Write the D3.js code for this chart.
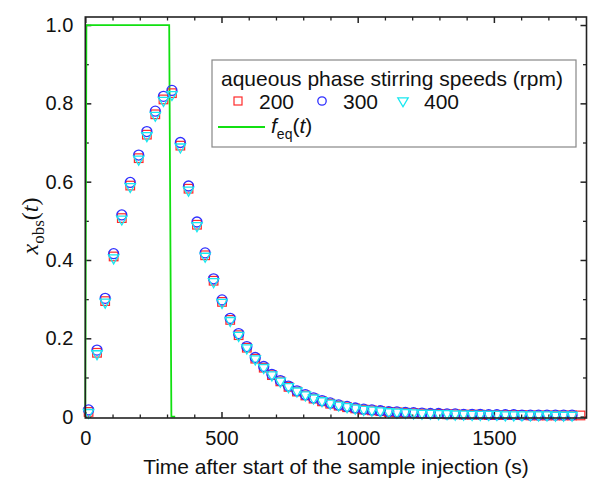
<!DOCTYPE html>
<html>
<head>
<meta charset="utf-8">
<script src="https://d3js.org/d3.v7.min.js"></script>
<style>
  body { margin: 0; background: #fff; }
  svg { font-family: "Liberation Sans", Arial, sans-serif; }
  .tick text { font-size: 20px; fill: #111; }
  .frame { fill: none; stroke: #222; stroke-width: 1.6px; }
  .legend-box { fill: #fff; stroke: #888; stroke-width: 1.2px; }
</style>
</head>
<body>
<script>
// sampling times (s)
var times = [12, 43, 73, 104, 134, 165, 196, 226, 257, 287,
  318, 349, 379, 410, 440, 471, 502, 532, 563, 593,
  624, 655, 685, 716, 746, 777, 808, 838, 869, 899,
  930, 961, 991, 1022, 1052, 1083, 1114, 1144, 1175, 1205,
  1236, 1267, 1297, 1328, 1358, 1389, 1420, 1450, 1481, 1511,
  1542, 1573, 1603, 1634, 1664, 1695, 1726, 1756, 1787, 1818];

var rpm200 = [0.012, 0.163, 0.295, 0.409, 0.507, 0.590, 0.660, 0.720, 0.772, 0.810,
  0.826, 0.692, 0.582, 0.490, 0.412, 0.347, 0.293, 0.247, 0.208, 0.176,
  0.148, 0.125, 0.106, 0.090, 0.076, 0.064, 0.054, 0.046, 0.039, 0.033,
  0.028, 0.024, 0.021, 0.018, 0.016, 0.014, 0.012, 0.011, 0.010, 0.009,
  0.008, 0.007, 0.007, 0.006, 0.006, 0.005, 0.005, 0.005, 0.004, 0.004,
  0.004, 0.004, 0.004, 0.003, 0.003, 0.003, 0.003, 0.003, 0.003, 0.003];

var rpm300 = [0.017, 0.170, 0.302, 0.416, 0.515, 0.598, 0.668, 0.728, 0.780, 0.818,
  0.833, 0.700, 0.589, 0.497, 0.418, 0.352, 0.298, 0.251, 0.212, 0.179,
  0.151, 0.128, 0.108, 0.092, 0.078, 0.066, 0.056, 0.048, 0.041, 0.035,
  0.030, 0.026, 0.022, 0.019, 0.017, 0.015, 0.013, 0.012, 0.011, 0.010,
  0.009, 0.008, 0.008, 0.007, 0.007, 0.006, 0.006, 0.006, 0.005, 0.005,
  0.005, 0.005, 0.004, 0.004, 0.004, 0.004, 0.004, 0.004, 0.004];

var rpm400 = [0.010, 0.160, 0.292, 0.405, 0.504, 0.587, 0.657, 0.717, 0.769, 0.807,
  0.822, 0.688, 0.578, 0.487, 0.409, 0.344, 0.291, 0.245, 0.207, 0.175,
  0.147, 0.125, 0.106, 0.090, 0.076, 0.065, 0.055, 0.047, 0.040, 0.034,
  0.029, 0.025, 0.021, 0.018, 0.016, 0.014, 0.012, 0.011, 0.010, 0.009,
  0.008, 0.008, 0.007, 0.007, 0.006, 0.006, 0.005, 0.005, 0.005, 0.005,
  0.004, 0.004, 0.004, 0.004, 0.004, 0.004, 0.003, 0.003, 0.003];

// f_eq(t) step profile
var feqT = [0, 4, 308, 316, 330];
var feqV = [0, 1, 1, 0, 0];

var xTicks = [0, 500, 1000, 1500];
var xMinor = [100, 200, 300, 400, 600, 700, 800, 900, 1100, 1200, 1300, 1400, 1600, 1700, 1800];
var yTicks = [0, 0.2, 0.4, 0.6, 0.8, 1.0];
var yMinor = [0.1, 0.3, 0.5, 0.7, 0.9];

var W = 593, H = 482;
var pL = 85.3, pR = 586.5, pT = 17, pB = 418;

var svg = d3.select("body").append("svg")
    .attr("width", W)
    .attr("height", H);

var x = d3.scaleLinear().domain([0, 1840]).range([pL, pR]);
var y = d3.scaleLinear().domain([-0.0035, 1.0205]).range([pB, pT]);

function yFmt(d) { return d === 0 ? "0" : d.toFixed(1); }
function styleTicks(w) {
  return function(g) {
    g.select(".domain").remove();
    g.selectAll("line").attr("stroke", "#222").attr("stroke-width", w);
  };
}

// axes, ticks inward on all four sides
svg.append("g")
    .attr("transform", "translate(0," + pB + ")")
    .call(d3.axisBottom(x).tickValues(xTicks).tickFormat(d3.format("d")).tickSizeInner(-6).tickSizeOuter(0).tickPadding(13))
    .call(styleTicks(1.5));

svg.append("g")
    .attr("transform", "translate(0," + pB + ")")
    .call(d3.axisBottom(x).tickValues(xMinor).tickSizeInner(-3.5).tickSizeOuter(0).tickFormat(""))
    .call(styleTicks(1.3));

svg.append("g")
    .attr("transform", "translate(0," + pT + ")")
    .call(d3.axisTop(x).tickValues(xTicks).tickSizeInner(-6).tickSizeOuter(0).tickFormat(""))
    .call(styleTicks(1.5));

svg.append("g")
    .attr("transform", "translate(0," + pT + ")")
    .call(d3.axisTop(x).tickValues(xMinor).tickSizeInner(-3.5).tickSizeOuter(0).tickFormat(""))
    .call(styleTicks(1.3));

svg.append("g")
    .attr("transform", "translate(" + pL + ",0)")
    .call(d3.axisLeft(y).tickValues(yTicks).tickFormat(yFmt).tickSizeInner(-6).tickSizeOuter(0).tickPadding(12))
    .call(styleTicks(1.5));

svg.append("g")
    .attr("transform", "translate(" + pL + ",0)")
    .call(d3.axisLeft(y).tickValues(yMinor).tickSizeInner(-3.5).tickSizeOuter(0).tickFormat(""))
    .call(styleTicks(1.3));

svg.append("g")
    .attr("transform", "translate(" + pR + ",0)")
    .call(d3.axisRight(y).tickValues(yTicks).tickSizeInner(-6).tickSizeOuter(0).tickFormat(""))
    .call(styleTicks(1.5));

svg.append("g")
    .attr("transform", "translate(" + pR + ",0)")
    .call(d3.axisRight(y).tickValues(yMinor).tickSizeInner(-3.5).tickSizeOuter(0).tickFormat(""))
    .call(styleTicks(1.3));

// f_eq line
var line = d3.line().x(function(d) { return x(d[0]); }).y(function(d) { return y(d[1]); });
svg.append("path")
    .datum(feqT.map(function(t, i) { return [t, feqV[i]]; }))
    .attr("d", line)
    .attr("fill", "none")
    .attr("stroke", "#11e011")
    .attr("stroke-width", 1.8);

// markers
var triPath = "M-5.2,-3.2L5.2,-3.2L0,5.8Z";

svg.append("g").selectAll("rect")
    .data(rpm200)
  .enter().append("rect")
    .attr("x", function(d, i) { return x(times[i]) - 4.3; })
    .attr("y", function(d) { return y(d) - 4.3; })
    .attr("width", 8.6)
    .attr("height", 8.6)
    .attr("fill", "none")
    .attr("stroke", "#ff2a2a")
    .attr("stroke-width", 1.2);

svg.append("g").selectAll("circle")
    .data(rpm300)
  .enter().append("circle")
    .attr("cx", function(d, i) { return x(times[i]); })
    .attr("cy", function(d) { return y(d); })
    .attr("r", 5)
    .attr("fill", "none")
    .attr("stroke", "#2f2fff")
    .attr("stroke-width", 1.3);

svg.append("g").selectAll("path")
    .data(rpm400)
  .enter().append("path")
    .attr("transform", function(d, i) { return "translate(" + x(times[i]) + "," + y(d) + ")"; })
    .attr("d", triPath)
    .attr("fill", "none")
    .attr("stroke", "#18e8f0")
    .attr("stroke-width", 1.3);

// frame
svg.append("rect")
    .attr("class", "frame")
    .attr("x", pL)
    .attr("y", pT)
    .attr("width", pR - pL)
    .attr("height", pB - pT);

// legend
var lg = svg.append("g");
lg.append("rect").attr("class", "legend-box")
    .attr("x", 212).attr("y", 60).attr("width", 364).attr("height", 87);
lg.append("text")
    .attr("x", 221).attr("y", 86)
    .style("font-size", "21px").attr("fill", "#111")
    .text("aqueous phase stirring speeds (rpm)");

var legItems = [
  {label: "200", cx: 238},
  {label: "300", cx: 322},
  {label: "400", cx: 403}
];
lg.append("rect").attr("x", legItems[0].cx - 4).attr("y", 101 - 4).attr("width", 8).attr("height", 8)
    .attr("fill", "none").attr("stroke", "#ff2a2a").attr("stroke-width", 1.2);
lg.append("circle").attr("cx", legItems[1].cx).attr("cy", 101).attr("r", 4.2)
    .attr("fill", "none").attr("stroke", "#2f2fff").attr("stroke-width", 1.3);
lg.append("path").attr("transform", "translate(" + legItems[2].cx + ",101)").attr("d", triPath)
    .attr("fill", "none").attr("stroke", "#18e8f0").attr("stroke-width", 1.3);
lg.selectAll("text.item")
    .data(legItems)
  .enter().append("text")
    .attr("class", "item")
    .attr("x", function(d) { return d.cx + 21; })
    .attr("y", 109)
    .style("font-size", "21px").attr("fill", "#111")
    .text(function(d) { return d.label; });

lg.append("line").attr("x1", 218).attr("x2", 265).attr("y1", 127).attr("y2", 127)
    .attr("stroke", "#11e011").attr("stroke-width", 1.8);
var ft = lg.append("text").attr("x", 271).attr("y", 133).style("font-size", "21px").attr("fill", "#111");
ft.append("tspan").style("font-style", "italic").text("f");
ft.append("tspan").attr("dy", 6).style("font-size", "14px").text("eq");
ft.append("tspan").attr("dy", -6).text("(");
ft.append("tspan").style("font-style", "italic").text("t");
ft.append("tspan").text(")");

// axis titles
svg.append("text")
    .attr("x", (pL + pR) / 2)
    .attr("y", 474)
    .attr("text-anchor", "middle")
    .style("font-size", "21px").attr("fill", "#111")
    .text("Time after start of the sample injection (s)");

var yl = svg.append("text")
    .attr("transform", "translate(38,226) rotate(-90)")
    .attr("text-anchor", "middle")
    .style("font-family", "'Liberation Serif', 'Times New Roman', serif")
    .style("font-size", "24px").attr("fill", "#111");
yl.append("tspan").style("font-style", "italic").text("x");
yl.append("tspan").attr("dy", 6).style("font-size", "17px").text("obs");
yl.append("tspan").attr("dy", -6).text("(");
yl.append("tspan").style("font-style", "italic").text("t");
yl.append("tspan").text(")");
</script>
</body>
</html>
